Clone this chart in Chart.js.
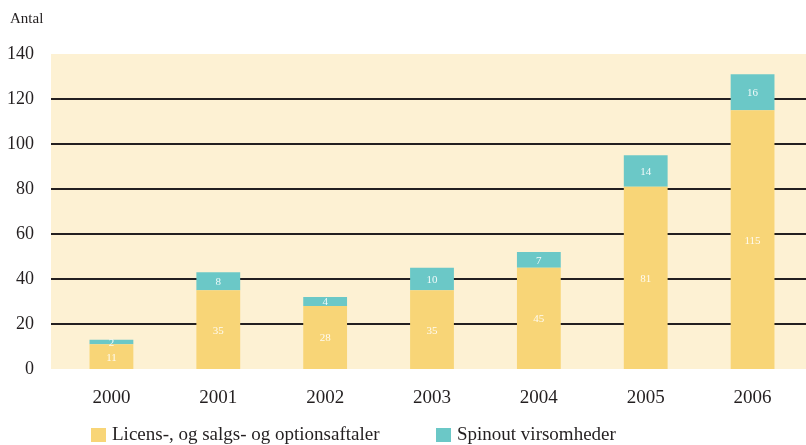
<!DOCTYPE html>
<html lang="da">
<head>
    <meta charset="UTF-8">
    <title>Antal aftaler og spinouts</title>
    <script src="https://cdn.jsdelivr.net/npm/chart.js@4.4.0/dist/chart.umd.min.js"></script>
    <style>
        html, body { margin: 0; padding: 0; background: #ffffff; }
        #wrap { width: 806px; height: 445px; position: relative; }
    </style>
</head>
<body>
<div id="wrap"><canvas id="chart"></canvas></div>
<script>
    // data
    const years = ['2000', '2001', '2002', '2003', '2004', '2005', '2006'];
    const licens = [11, 35, 28, 35, 45, 81, 115];
    const spinout = [2, 8, 4, 10, 7, 14, 16];
    const seriesNames = ['Licens-, og salgs- og optionsaftaler', 'Spinout virsomheder'];
    const yTicks = [0, 20, 40, 60, 80, 100, 120, 140];
    const gridValues = [20, 40, 60, 80, 100, 120];

    const YELLOW = '#F8D577';
    const TEAL = '#6BC8C7';
    const CREAM = '#FDF1D3';
    const INK = '#231F20';
    const SERIF = '"Liberation Serif", "Times New Roman", serif';

    // cream plot background and black grid lines, both a little wider than the chart area
    const bgPlugin = {
        id: 'bg',
        beforeDatasetsDraw(chart) {
            const a = chart.chartArea, c = chart.ctx, y = chart.scales.y;
            c.save();
            c.fillStyle = CREAM;
            c.fillRect(a.left - 7, a.top, a.right - a.left + 7, a.bottom - a.top);
            c.strokeStyle = INK;
            c.lineWidth = 2;
            gridValues.forEach(v => {
                const py = Math.round(y.getPixelForValue(v));
                c.beginPath();
                c.moveTo(a.left - 7, py);
                c.lineTo(a.right, py);
                c.stroke();
            });
            c.restore();
        }
    };

    // white value labels inside each segment, "Antal" caption and the legend
    const textPlugin = {
        id: 'texts',
        afterDraw(chart) {
            const c = chart.ctx;
            c.save();
            c.textAlign = 'center';
            c.textBaseline = 'middle';
            c.font = '11px ' + SERIF;
            c.fillStyle = 'rgba(255,255,255,0.9)';
            chart.data.datasets.forEach((ds, i) => {
                chart.getDatasetMeta(i).data.forEach((bar, j) => {
                    const y = (bar.y + bar.base) / 2;
                    c.fillText(String(ds.data[j]), bar.x, y + 1);
                });
            });

            c.textAlign = 'left';
            c.fillStyle = INK;
            c.font = '15px ' + SERIF;
            c.fillText('Antal', 10, 19);

            // legend
            c.font = '19px ' + SERIF;
            const items = [[91, YELLOW, seriesNames[0]], [436, TEAL, seriesNames[1]]];
            items.forEach(([x, col, txt]) => {
                c.fillStyle = col;
                c.fillRect(x, 428, 15, 14);
                c.fillStyle = INK;
                c.fillText(txt, x + 21, 435);
            });
            c.restore();
        }
    };

    new Chart(document.getElementById('chart'), {
        type: 'bar',
        data: {
            labels: years,
            datasets: [
                { label: seriesNames[0], data: licens, backgroundColor: YELLOW },
                { label: seriesNames[1], data: spinout, backgroundColor: TEAL }
            ]
        },
        options: {
            responsive: true,
            maintainAspectRatio: false,
            animation: false,
            layout: { padding: { top: 54, left: 0, right: 0, bottom: 0 } },
            datasets: { bar: { barPercentage: 0.41, categoryPercentage: 1 } },
            plugins: {
                legend: { display: false },
                tooltip: { enabled: false }
            },
            scales: {
                x: {
                    stacked: true,
                    grid: { display: false },
                    border: { display: false },
                    ticks: { color: INK, font: { family: SERIF, size: 19 }, padding: 10 },
                    afterFit: s => { s.height = 76; }
                },
                y: {
                    stacked: true,
                    min: 0,
                    max: 140,
                    afterBuildTicks: s => { s.ticks = yTicks.map(v => ({ value: v })); },
                    afterFit: s => { s.width = 58; },
                    border: { display: false },
                    grid: { display: false, drawTicks: false },
                    ticks: { color: INK, font: { family: SERIF, size: 18 }, padding: 24 }
                }
            }
        },
        plugins: [bgPlugin, textPlugin]
    });
</script>
</body>
</html>
